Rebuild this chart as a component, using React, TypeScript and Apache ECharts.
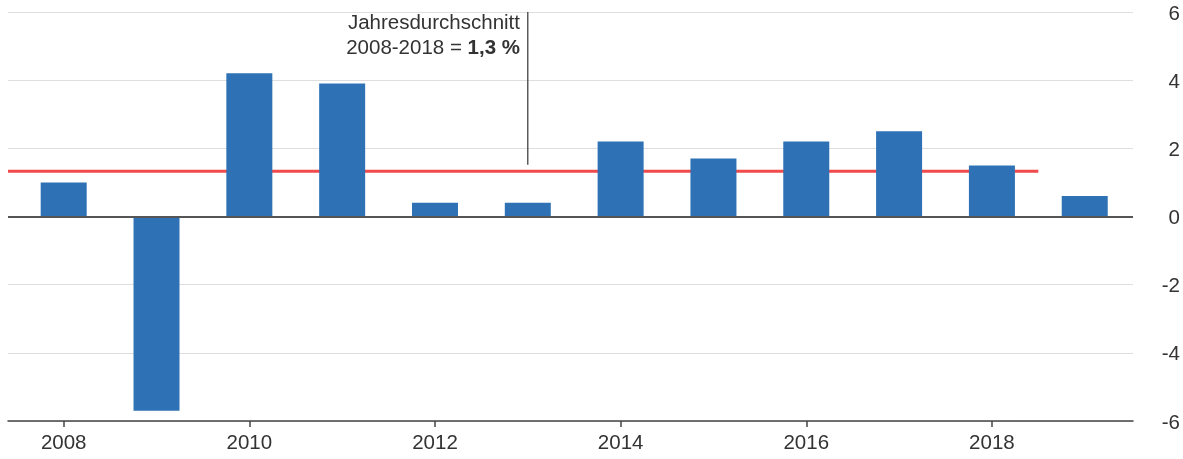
import React, { useEffect, useRef } from "react";
import * as echarts from "echarts";

const years = [2008, 2009, 2010, 2011, 2012, 2013, 2014, 2015, 2016, 2017, 2018, 2019];
const values = [1.0, -5.7, 4.2, 3.9, 0.4, 0.4, 2.2, 1.7, 2.2, 2.5, 1.5, 0.6];
const xTickLabels = [2008, 2010, 2012, 2014, 2016, 2018];
const averageValue = 1.33;
const averageFrom = 2007.4;
const averageTo = 2018.5;
const annotationYear = 2013;
const annotationTop = 6;
const annotationBottom = 1.52;
const annotationLine1 = "Jahresdurchschnitt";
const annotationLine2a = "2008-2018 = ";
const annotationLine2b = "1,3 %";

export default function App() {
  const ref = useRef<HTMLDivElement>(null);
  useEffect(() => {
    if (!ref.current) return;
    const chart = echarts.init(ref.current, null, { renderer: "svg" });
    const font = "Liberation Sans, Arial, sans-serif";
    const fs = 20.5;
    chart.setOption({
      animation: false,
      textStyle: { fontFamily: font },
      grid: { left: 8, right: 49, top: 12, bottom: 38 },
      xAxis: {
        type: "value",
        min: 2007.4,
        max: 2019.52,
        splitLine: { show: false },
        axisLine: { show: true, onZero: false, lineStyle: { color: "#444", width: 1.5 } },
        axisTick: {
          show: true,
          customValues: xTickLabels,
          length: 6,
          lineStyle: { color: "#444", width: 1.5 },
        },
        axisLabel: {
          customValues: xTickLabels,
          formatter: (v: number) => String(v),
          color: "#333",
          fontSize: fs,
          margin: 10,
          fontFamily: font,
        },
      },
      yAxis: {
        type: "value",
        position: "right",
        min: -6,
        max: 6,
        interval: 2,
        axisLine: { show: false },
        axisTick: { show: false },
        splitLine: { show: true, lineStyle: { color: "#dedede", width: 1 } },
        axisLabel: {
          color: "#333",
          fontSize: fs,
          align: "right",
          margin: 47,
          fontFamily: font,
        },
      },
      series: [
        {
          type: "line",
          z: 1,
          symbol: "none",
          lineStyle: { color: "#f04a4a", width: 3 },
          data: [
            [averageFrom, averageValue],
            [averageTo, averageValue],
          ],
          silent: true,
        },
        {
          type: "bar",
          z: 2,
          barWidth: 46,
          itemStyle: { color: "#2e72b5" },
          data: years.map((y, i) => [y, values[i]]),
          markLine: {
            silent: true,
            symbol: "none",
            label: { show: false },
            lineStyle: { color: "#555", width: 2, type: "solid" },
            data: [{ yAxis: 0 }],
          },
        },
        {
          type: "line",
          z: 3,
          symbol: "none",
          lineStyle: { color: "#333", width: 1.2 },
          data: [
            [annotationYear, annotationTop],
            [annotationYear, annotationBottom],
          ],
          silent: true,
        },
      ],
      graphic: [
        {
          type: "text",
          right: 1183 - 520,
          top: 11,
          style: {
            text: `{n|${annotationLine1}}\n{n|${annotationLine2a}}{b|${annotationLine2b}}`,
            align: "right",
            rich: {
              n: { fontSize: fs, fill: "#333", fontFamily: font, lineHeight: 24.5, align: "right" },
              b: { fontSize: fs, fill: "#333", fontFamily: font, fontWeight: "bold", lineHeight: 24.5 },
            },
          },
        },
      ],
    });
    return () => chart.dispose();
  }, []);
  return (
    <div
      ref={ref}
      style={{ position: "fixed", left: 0, top: 0, width: 1183, height: 459 }}
    />
  );
}
